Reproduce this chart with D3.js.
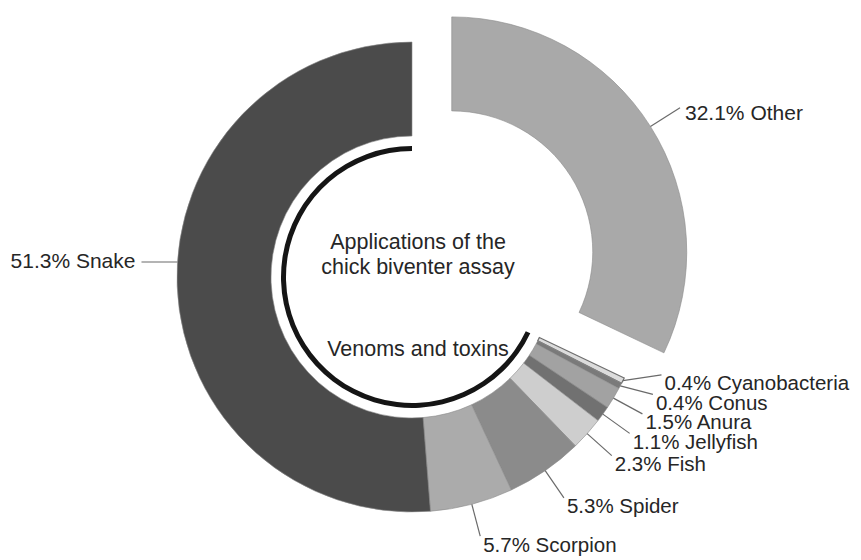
<!DOCTYPE html>
<html>
<head>
<meta charset="utf-8">
<script src="https://cdn.jsdelivr.net/npm/d3@7"></script>
<style>
    body { margin: 0; background: #fff; }
    text { font-family: "Liberation Sans", Arial, sans-serif; fill: #262626; }
</style>
</head>
<body>
<div id="donut"></div>
<script>
// share of studies using the chick biventer assay, clockwise from 12 o'clock
var categories = ["Other", "Cyanobacteria", "Conus", "Anura", "Jellyfish", "Fish", "Spider", "Scorpion", "Snake"];
var percents = [32.1, 0.4, 0.4, 1.5, 1.1, 2.3, 5.3, 5.7, 51.3];
var sliceColors = ["#a9a9a9", "#dcdcdc", "#7a7a7a", "#a2a2a2", "#717171", "#cecece", "#8b8b8b", "#ababab", "#4b4b4b"];
var centerTitle = ["Applications of the", "chick biventer assay"];
var groupLabel = "Venoms and toxins";

DonutChart = function(parent) {
    var vis = this;
    vis.parent = parent;
    vis.initVis();
}

DonutChart.prototype.initVis = function() {
    var vis = this;

    vis.width = 861;
    vis.height = 560;
    vis.cx = 412;
    vis.cy = 277;
    vis.rInner = 141;
    vis.rOuter = 235;
    vis.explode = 47;

    vis.svg = d3.select(vis.parent)
        .append("svg")
        .attr("width", vis.width)
        .attr("height", vis.height);

    vis.g = vis.svg.append("g")
        .attr("transform", "translate(" + vis.cx + "," + vis.cy + ")");

    vis.color = d3.scaleOrdinal().domain(categories).range(sliceColors);

    vis.data = categories.map(function(c, i) {
        return {name: c, value: percents[i]};
    });

    vis.pie = d3.pie().sort(null).value(function(d) { return d.value; });
    vis.arc = d3.arc().innerRadius(vis.rInner).outerRadius(vis.rOuter);

    vis.updateVis();
}

DonutChart.prototype.polar = function(a, r) {
    return [Math.sin(a) * r, -Math.cos(a) * r];
}

DonutChart.prototype.updateVis = function() {
    var vis = this;
    var arcs = vis.pie(vis.data);

    // offset for the pulled out "Other" slice
    var shift = function(d) {
        if (d.data.name != "Other") return [0, 0];
        var mid = (d.startAngle + d.endAngle) / 2;
        return vis.polar(mid, vis.explode);
    };

    vis.g.selectAll(".slice")
        .data(arcs)
        .enter().append("path")
        .attr("class", "slice")
        .attr("transform", function(d) { return "translate(" + shift(d) + ")"; })
        .attr("d", vis.arc)
        .attr("fill", function(d) { return vis.color(d.data.name); })
        .attr("stroke", function(d) { return d.data.name == "Cyanobacteria" ? "#6e6e6e" : "#8a8a8a"; })
        .attr("stroke-width", function(d) { return d.data.name == "Cyanobacteria" ? 1.2 : 0.6; });

    // black bracket arc for the venom / toxin group
    var other = arcs[0];
    vis.g.append("path")
        .attr("d", d3.arc().innerRadius(126).outerRadius(131)
            .startAngle(other.endAngle).endAngle(2 * Math.PI)())
        .attr("fill", "#151515");

    // centre text
    vis.g.selectAll(".title")
        .data(centerTitle)
        .enter().append("text")
        .attr("class", "title")
        .attr("x", 6)
        .attr("y", function(d, i) { return -34 + i * 25; })
        .attr("dominant-baseline", "middle")
        .attr("text-anchor", "middle")
        .attr("font-size", 21.5)
        .text(function(d) { return d; });

    vis.g.append("text")
        .attr("x", 6)
        .attr("y", 73)
        .attr("dominant-baseline", "middle")
        .attr("text-anchor", "middle")
        .attr("font-size", 21.5)
        .text(groupLabel);

    var labelText = function(d) { return d.data.value.toFixed(1) + "% " + d.data.name; };
    var lines = [];

    // Other: radial leader off the exploded slice
    var oMid = (other.startAngle + other.endAngle) / 2;
    var off = shift(other);
    var p0 = vis.polar(oMid, vis.rOuter);
    var p1 = vis.polar(oMid, vis.rOuter + 35);
    lines.push({x1: p0[0] + off[0], y1: p0[1] + off[1], x2: p1[0] + off[0], y2: p1[1] + off[1],
        tx: p1[0] + off[0] + 5, ty: p1[1] + off[1] + 7, anchor: "start", text: labelText(other)});

    // Snake: horizontal leader to the left
    var snake = arcs[arcs.length - 1];
    var sy = -15;
    var sx = -Math.sqrt(vis.rOuter * vis.rOuter - sy * sy);
    lines.push({x1: sx, y1: sy, x2: sx - 36, y2: sy, tx: sx - 42, ty: sy,
        anchor: "end", text: labelText(snake)});

    // small slices: radial anchors, stacked so they do not collide
    var small = arcs.slice(1, arcs.length - 1);
    var rl = vis.rOuter + 33;
    var anchors = small.map(function(d) {
        var mid = (d.startAngle + d.endAngle) / 2;
        var a = vis.polar(mid, rl);
        return {d: d, mid: mid, x: a[0], y: a[1]};
    });
    for (var i = anchors.length - 2; i >= 0; i--) {
        var lim = anchors[i + 1].y - 19.5;
        if (anchors[i].y > lim) {
            anchors[i].y = lim;
            anchors[i].x = Math.sqrt(rl * rl - lim * lim);
        }
    }
    anchors.forEach(function(a) {
        var s = vis.polar(a.mid, vis.rOuter);
        lines.push({x1: s[0], y1: s[1], x2: a.x, y2: a.y, tx: a.x + 3, ty: a.y + 10,
            anchor: "start", text: labelText(a.d), small: true});
    });

    vis.g.selectAll(".leader")
        .data(lines)
        .enter().append("line")
        .attr("class", "leader")
        .attr("x1", function(d) { return d.x1; })
        .attr("y1", function(d) { return d.y1; })
        .attr("x2", function(d) { return d.x2; })
        .attr("y2", function(d) { return d.y2; })
        .attr("stroke", "#6a6a6a")
        .attr("stroke-width", 1.2);

    vis.g.selectAll(".label")
        .data(lines)
        .enter().append("text")
        .attr("class", "label")
        .attr("x", function(d) { return d.tx; })
        .attr("y", function(d) { return d.ty; })
        .attr("dominant-baseline", "middle")
        .attr("text-anchor", function(d) { return d.anchor; })
        .attr("font-size", function(d) { return d.small ? 20.5 : 21; })
        .text(function(d) { return d.text; });
}

var chart = new DonutChart("#donut");
</script>
</body>
</html>
